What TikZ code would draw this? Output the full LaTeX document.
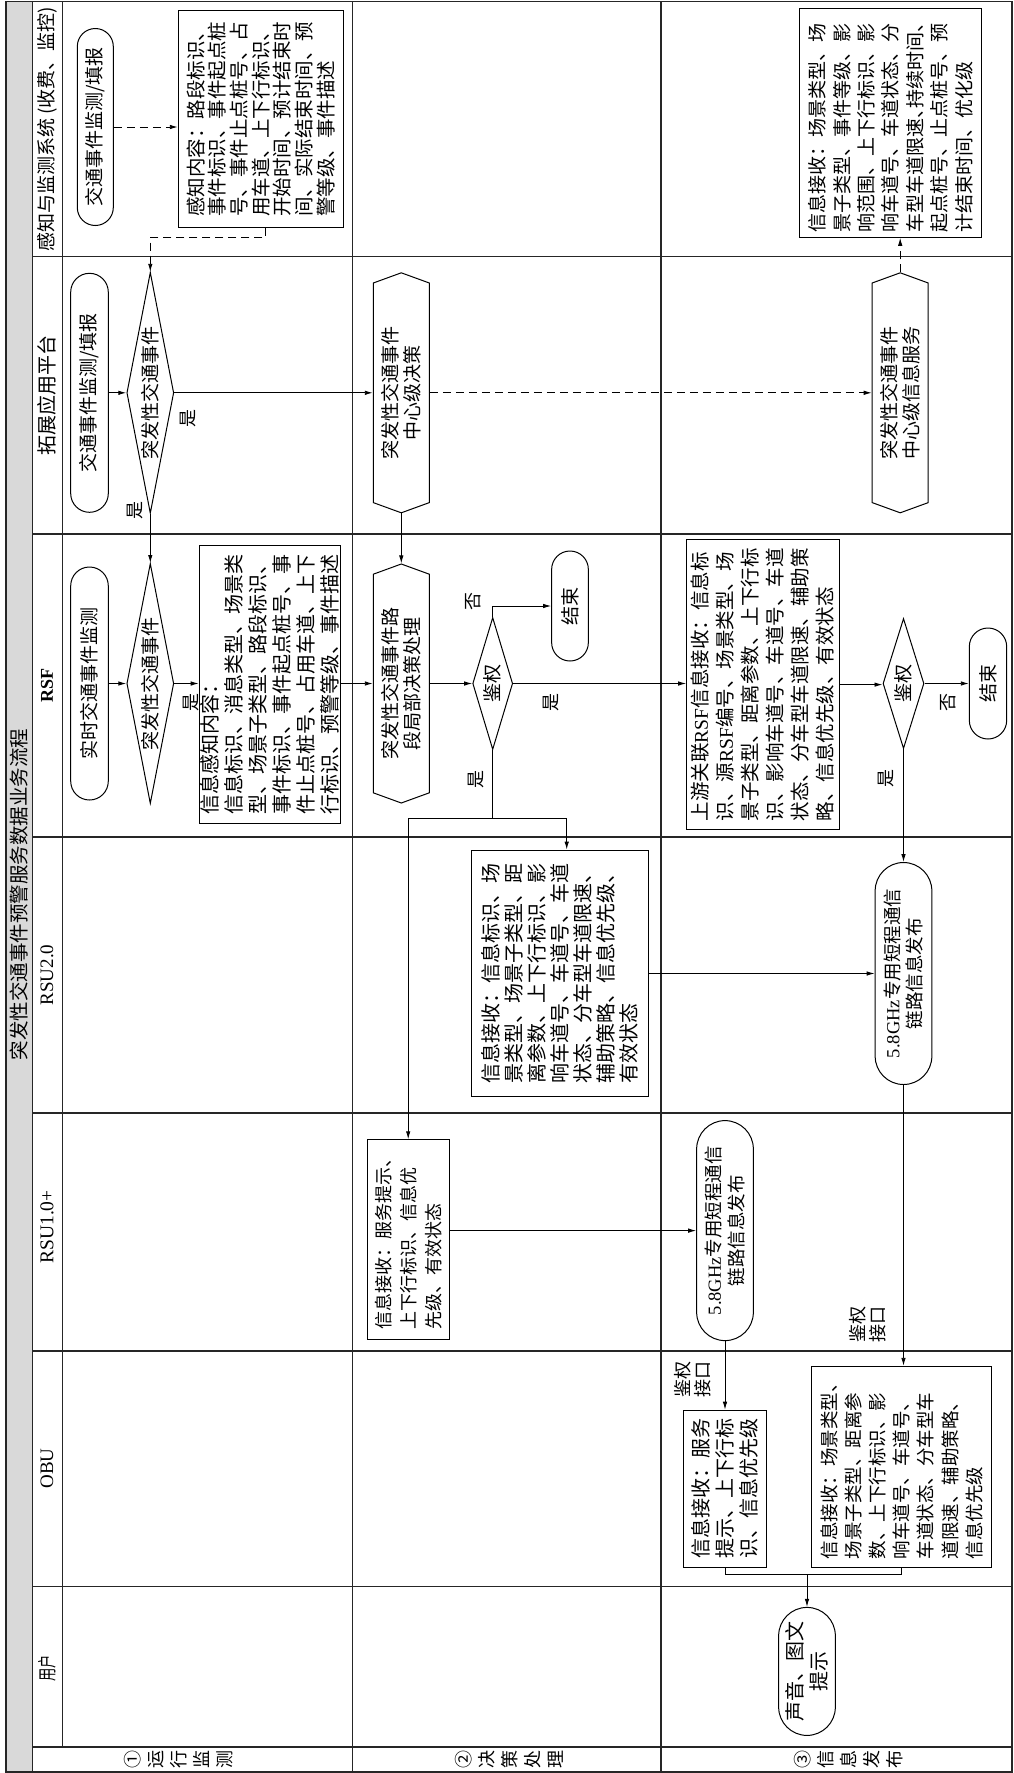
\documentclass[tikz,border=0pt]{standalone}
\usepackage{fontspec}
\setmainfont{Noto Sans CJK SC}
\newfontfamily\lat{Liberation Serif}
\usetikzlibrary{shapes.misc,shapes.geometric,shapes.symbols,arrows.meta,calc}
\newcommand{\fs}[2]{\fontsize{#1}{#2}\selectfont}
\tikzset{
  gridln/.style={line width=1.3pt, draw=black!85},
  bx/.style={draw, line width=1pt, rectangle, rotate=90, inner sep=0pt, align=left},
  term/.style={draw, line width=1pt, rounded rectangle, rotate=90, inner sep=0pt, align=center},
  dec/.style={draw, line width=1pt, diamond, rotate=90, inner sep=0pt, font=\fs{19}{22}},
  hexa/.style={draw, line width=1pt, signal, signal to=east and west, signal pointer angle=140, rotate=90, inner sep=0pt, align=center, font=\fs{19}{22}},
  conn/.style={line width=0.9pt, -{Latex[length=8pt,width=4.5pt]}},
  dconn/.style={conn, dash pattern=on 8pt off 5pt},
  ln/.style={line width=0.9pt},
  lbl/.style={rotate=90, inner sep=0pt, align=center, font=\fs{18}{20}},
  lanelbl/.style={rotate=90, inner sep=0pt, font=\fs{19}{22}},
}
\begin{document}
\begin{tikzpicture}[x=1pt,y=-1pt]
\useasboundingbox (0,0) rectangle (1013,1773);
\fill[white] (0,0) rectangle (1013,1773);
% title strip
\fill[gray!30] (7,2) rectangle (31.5,1771);
% grid
\draw[gridln] (6,1.5) rectangle (1012,1772);
\draw[gridln] (32.3,1.5) -- (32.3,1772);
\draw[gridln] (62.3,1.5) -- (62.3,1747);
\draw[gridln] (352.3,1.5) -- (352.3,1772);
\draw[gridln] (661,1.5) -- (661,1772);
\foreach \yy in {256.5,534,837,1113,1351,1586.3,1747} \draw[gridln] (32.3,\yy) -- (1012,\yy);

% title and lane labels
\node[lanelbl, font=\fs{19.5}{22}] (title) at (19.5,894.5) {突发性交通事件预警服务数据业务流程};
\node[lanelbl] (l1) at (47,129) {感知与监测系统\,(收费、监控)};
\node[lanelbl, font=\fs{20}{22}] (l2) at (47,395) {拓展应用平台};
\node[lanelbl, font=\lat\bfseries\fs{18}{22}] (l3) at (47,685.5) {RSF};
\node[lanelbl, font=\lat\fs{19}{22}] (l4) at (47,975) {RSU2.0};
\node[lanelbl, font=\lat\fs{19.5}{22}] (l5) at (47,1227) {RSU1.0+};
\node[lanelbl, font=\lat\fs{19}{22}] (l6) at (47,1468.5) {OBU};
\node[lanelbl] (l7) at (47,1668) {\scalebox{0.7}[1]{用户}};

% phase labels
\node[lbl, font=\fs{18}{23}] (p1) at (179,1759.5) {①\\运\\行\\监\\测};
\node[lbl, font=\fs{18}{23}] (p2) at (509.5,1759.5) {②\\决\\策\\处\\理};
\node[lbl, font=\fs{18}{23}] (p3) at (848.5,1759.5) {③\\信\\息\\发\\布};

% row 1
\node[term, minimum width=197pt, minimum height=36pt, font=\fs{19}{22}] (T1) at (95.3,127) {交通事件监测/填报};
\node[bx, minimum width=217pt, minimum height=165pt, font=\fs{19.5}{21.7}] (B1) at (260.8,119.2) {感知内容：路段标识、\\事件标识、事件起点桩\\号、事件止点桩号、占\\用车道、上下行标识、\\开始时间、预计结束时\\间、实际结束时间、预\\警等级、事件描述};
\node[bx, minimum width=229pt, minimum height=182pt, font=\fs{19}{24.4}] (B2) at (890.5,122.8) {信息接收：场景类型、场\\景子类型、事件等级、影\\响范围、上下行标识、影\\响车道号、车道状态、分\\车型车道限速、\kern-.5em持续时间、\\起点桩号、止点桩号、预\\计结束时间、优化级};

% row 2
\node[term, minimum width=239pt, minimum height=37.6pt, font=\fs{19}{22}] (T2) at (89.5,392.8) {交通事件监测/填报};
\node[dec, aspect=5, minimum width=241pt, minimum height=47pt] (D1) at (150.3,392.8) {突发性交通事件};
\node[hexa, minimum width=240pt, minimum height=56pt] (H1) at (401.3,392.8) {突发性交通事件\\中心级决策};
\node[hexa, minimum width=240pt, minimum height=56pt] (H2) at (900.2,392.8) {突发性交通事件\\中心级信息服务};

% row 3
\node[term, minimum width=233pt, minimum height=37.6pt, font=\fs{19}{22}] (T3) at (89.5,683.5) {实时交通事件监测};
\node[dec, aspect=5, minimum width=240pt, minimum height=47pt] (D2) at (150.3,683.5) {突发性交通事件};
\node[bx, minimum width=278pt, minimum height=141pt, font=\fs{20}{24}] (B3) at (269.7,684.5) {信息感知内容：\\信息标识、消息类型、场景类\\型、场景子类型、路段标识、\\事件标识、事件起点桩号、事\\件止点桩号、占用车道、上下\\行标识、预警等级、事件描述};
\node[hexa, minimum width=239pt, minimum height=56pt] (H3) at (401.3,683.5) {突发性交通事件路\\段局部决策处理};
\node[dec, aspect=3.3, minimum width=132pt, minimum height=40pt] (D3) at (492.7,683.5) {鉴权};
\node[term, minimum width=110pt, minimum height=36.7pt, font=\fs{19}{22}] (E1) at (570,606) {结束};
\node[bx, minimum width=290pt, minimum height=152.6pt, font=\fs{19.5}{25}] (B4) at (763,684.6) {上游关联{\lat RSF}信息接收：信息标\\识、源{\lat RSF}编号、场景类型、场\\景子类型、距离参数、上下行标\\识、影响车道号、车道号、车道\\状态、分车型车道限速、辅助策\\略、信息优先级、有效状态};
\node[dec, aspect=3.2, minimum width=130pt, minimum height=41pt] (D4) at (903.5,683.5) {鉴权};
\node[term, minimum width=111pt, minimum height=37.4pt, font=\fs{19}{22}] (E2) at (988,683.5) {结束};

% row 4
\node[bx, minimum width=246.8pt, minimum height=176.7pt, font=\fs{20}{23}] (B5) at (560,973.5) {信息接收：信息标识、场\\景类型、场景子类型、距\\离参数、上下行标识、影\\响车道号、车道号、车道\\状态、分车型车道限速、\\辅助策略、信息优先级、\\有效状态};
\node[term, minimum width=222pt, minimum height=56.7pt, font=\fs{18.5}{22.5}] (T5) at (903.5,973.5) {\makebox[160pt]{{\lat 5.8GHz}专用短程通信}\\\makebox[160pt]{链路信息发布}};

% row 5
\node[bx, minimum width=200pt, minimum height=81.7pt, font=\fs{18}{25}] (B6) at (408.2,1239.8) {信息接收：服务提示、\\上下行标识、信息优\\先级、有效状态};
\node[term, minimum width=220pt, minimum height=56.7pt, font=\fs{18.5}{22.5}] (T6) at (725,1230.6) {\makebox[160pt]{{\lat 5.8GHz}专用短程通信}\\\makebox[160pt]{链路信息发布}};

% row 6
\node[bx, minimum width=157pt, minimum height=82.3pt, font=\fs{20}{24}] (B7) at (725,1488.7) {信息接收：服务\\提示、上下行标\\识、信息优先级};
\node[bx, minimum width=201pt, minimum height=180pt, font=\fs{18.5}{24.2}] (B8) at (901.7,1466.8) {信息接收：场景类型、\\场景子类型、距离参\\数、上下行标识、影\\响车道号、车道号、\\车道状态、分车型车\\道限速、辅助策略、\\信息优先级};

% row 7
\node[term, minimum width=128pt, minimum height=56.7pt, font=\fs{20}{23.5}] (T7) at (807,1671.4) {\makebox[70pt]{声音、图文}\\\makebox[70pt]{提示}};

% junction coordinates
\coordinate (S1) at (492.7,818);
\coordinate (M) at (807,1574.5);

% connectors
\draw[dconn] (T1.south) -- (T1.south -| B1.north);
\draw[dconn] ($(B1.west)+(5,0)$) -- ++(0,9.6) -| (D1.east);
\draw[conn] (T2.south) -- (D1.north);
\draw[conn] (D1.south) -- (H1.north);
\draw[conn] (D1.west) -- (D2.east);
\draw[dconn] (H1.south) -- (H2.north);
\draw[conn] (H1.west) -- (H3.east);
\draw[dconn] (H2.east) -- (H2.east |- B2.west);
\draw[conn] (T3.south) -- (D2.north);
\draw[conn] (D2.south) -- (D2.south -| B3.north);
\draw[conn] (H3.north -| B3.south) -- (H3.north);
\draw[conn] (H3.south) -- (D3.north);
\draw[conn] (D3.east) |- (E1.north);
\draw[conn] (D3.south) -- (D3.south -| B4.north);
\draw[ln] (D3.west) -- (S1);
\draw[conn] (S1) -| ($(B5.east)+(6.7,0)$);
\draw[conn] (S1) -| (B6.east);
\draw[conn] (B4.south) -- (B4.south -| D4.north);
\draw[conn] (D4.south) -- (E2.north);
\draw[conn] (D4.west) -- (D4.west |- T5.east);
\draw[conn] (B5.south) -- (B5.south -| T5.north);
\draw[conn] (T6.north -| B6.south) -- (T6.north);
\draw[conn] (T6.west) -- (T6.west |- B7.east);
\draw[conn] (T5.west) -- (T5.west |- B8.east);
\draw[ln] (B7.west) |- (M) -| (B8.west);
\draw[conn] (M) -- (T7.east);

% branch labels
\node[lbl] (y1) at (188.5,418) {是};
\node[lbl] (y2) at (135,510) {是};
\node[lbl] (y3) at (191.5,702) {是};
\node[lbl] (n1) at (473,601) {否};
\node[lbl] (y4) at (551.5,702) {是};
\node[lbl] (y5) at (476.5,779) {是};
\node[lbl] (n2) at (948,702) {否};
\node[lbl] (y6) at (886.5,778) {是};
\node[lbl] (k1) at (693,1379) {鉴权\\接口};
\node[lbl] (k2) at (867.5,1324) {鉴权\\接口};
\end{tikzpicture}
\end{document}
